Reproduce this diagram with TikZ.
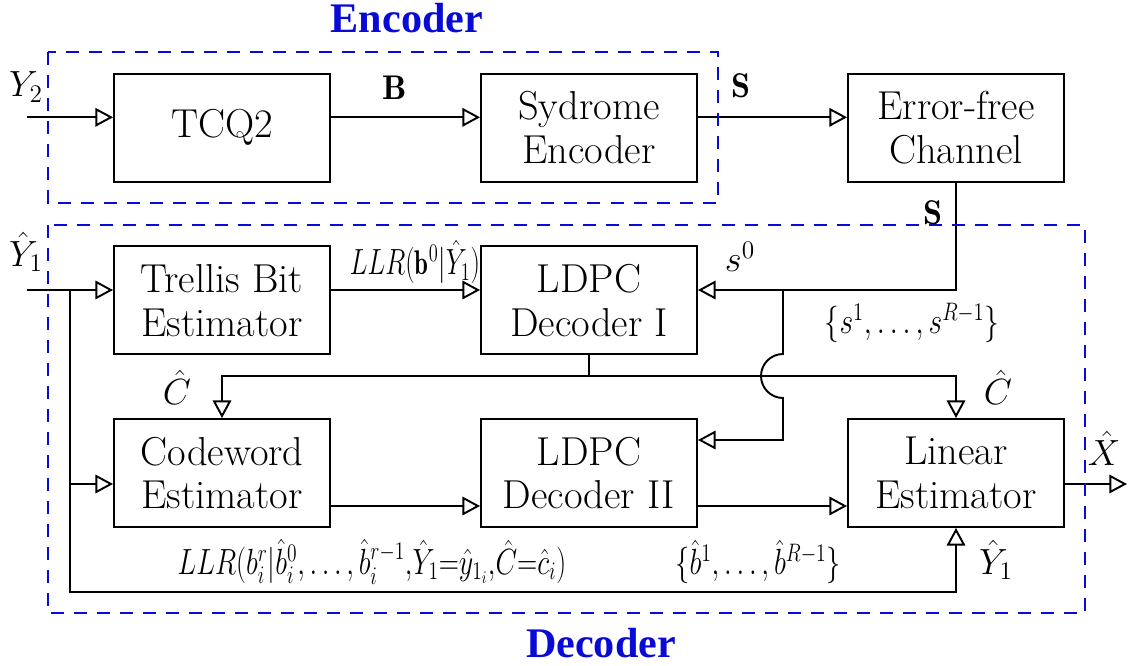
\documentclass[tikz,border=0pt]{standalone}
\usepackage{fontspec}
\usepackage{amsmath}
\usepackage{graphicx}
\usetikzlibrary{arrows.meta}
\newfontfamily\ttlserif{Liberation Serif}
\newcommand\boxfont{\fontsize{23}{25}\selectfont}
\newcommand\labfont{\fontsize{19.5}{22}\selectfont}
\newcommand\ttlfont{\ttlserif\bfseries\fontsize{24}{28}\selectfont}
\definecolor{dblue}{RGB}{10,10,215}
\tikzset{
  blk/.style={draw, line width=1.1pt, minimum width=4.32cm, minimum height=2.16cm, align=center, font=\boxfont, inner sep=0pt},
  arr/.style={line width=1.1pt, -{Triangle[open,length=10pt,width=10.5pt,line width=1.1pt]}},
  ln/.style={line width=1.1pt},
  dbox/.style={draw=dblue, line width=1.1pt, dash pattern=on 7.4pt off 5.7pt},
  lab/.style={font=\labfont, inner sep=0pt},
  ttl/.style={font=\ttlfont, text=dblue, inner sep=0pt}
}
\begin{document}
\begin{tikzpicture}[x=0.02cm,y=-0.02cm]
\useasboundingbox (0,0) rectangle (1133,666);
% blocks
\node[blk] (tcq) at (222,127.7) {TCQ2};
\node[blk] (syd) at (589,127.7) {Sydrome\\Encoder};
\node[blk] (chan) at (956,127.7) {Error-free\\Channel};
\node[blk] (trel) at (222,300.3) {Trellis Bit\\Estimator};
\node[blk] (ld1) at (589,300.3) {LDPC\\Decoder I};
\node[blk] (cw) at (222,473) {Codeword\\Estimator};
\node[blk] (ld2) at (589,473) {LDPC\\Decoder II};
\node[blk] (lin) at (956,473) {Linear\\Estimator};
% coordinates
\coordinate (in2) at (27,117.3);
\coordinate (in1) at (27,290);
\coordinate (bx) at (70,290);
\coordinate (cwin) at (70,484);
\coordinate (bot) at (70,592);
\coordinate (sj) at (956,290);
\coordinate (br) at (783,290);
\coordinate (hopT) at (783,354);
\coordinate (l2in) at (783,440);
\coordinate (ch) at (589,376);
\coordinate (r2) at (0,506);
\coordinate (xo) at (1127,484);
% encoder connectors
\draw[arr] (in2) -- (in2 -| tcq.west);
\draw[arr] (tcq.east |- in2) -- (syd.west |- in2);
\draw[arr] (syd.east |- in2) -- (chan.west |- in2);
% channel to decoders
\draw[arr] (chan.south) -- (sj) -- (sj -| ld1.east);
\draw[arr] (br) -- (hopT) arc[start angle=90,end angle=270,radius=0.44cm] -- (l2in) -- (l2in -| ld2.east);
% Y1 paths
\draw[arr] (in1) -- (in1 -| trel.west);
\draw[arr] (trel.east |- in1) -- (ld1.west |- in1);
\draw[arr] (bx) |- (lin.south |- bot) -- (lin.south);
\draw[arr] (cwin) -- (cwin -| cw.west);
% C hat
\draw[ln] (ld1.south) -- (ch);
\draw[arr] (ch) -| (cw.north);
\draw[arr] (ch) -| (lin.north);
% lower row
\draw[arr] (cw.east |- r2) -- (ld2.west |- r2);
\draw[arr] (ld2.east |- r2) -- (lin.west |- r2);
\draw[arr] (lin.east |- xo) -- (xo);
% dashed groups
\draw[dbox] (48,52) rectangle (718,203);
\draw[dbox] (48,225) rectangle (1085,613);
% labels
\node[lab] (lY2) at (26,87) {$Y_2$};
\node[lab] (lB) at (395,88) {$\mathbf{B}$};
\node[lab] (lS1) at (741,86) {$\mathbf{S}$};
\node[lab] (lS2) at (933,213) {$\mathbf{S}$};
\node[lab] (lY1) at (26,252) {$\hat{Y}_1$};
\node[lab] (lLLR) at (415,262) {\scalebox{0.73}[1]{$LLR(\mathbf{b}^0|\hat{Y}_1)$}};
\node[lab] (ls0) at (740,257) {$s^0$};
\node[lab] (lsR) at (912,323) {\scalebox{0.81}[1]{$\{s^1,\ldots,s^{R-1}\}$}};
\node[lab] (lC1) at (177,387) {$\hat{C}$};
\node[lab] (lC2) at (998,387) {$\hat{C}$};
\node[lab] (lX) at (1104,448) {$\hat{X}$};
\node[lab] (lY1b) at (996,560) {$\hat{Y}_1$};
\node[lab] (lLLR2) at (372,562) {\scalebox{0.77}[1]{$LLR(b_i^r|\hat{b}_i^0,\ldots,\hat{b}_i^{r-1}{,}\hat{Y}_1{=}\hat{y}_{1_i}{,}\hat{C}{=}\hat{c}_i)$}};
\node[lab] (lbR) at (758,562) {\scalebox{0.78}[1]{$\{\hat{b}^1,\ldots,\hat{b}^{R-1}\}$}};
\node[ttl] (tEnc) at (407,18) {Encoder};
\node[ttl] (tDec) at (601,643) {Decoder};
\end{tikzpicture}
\end{document}
